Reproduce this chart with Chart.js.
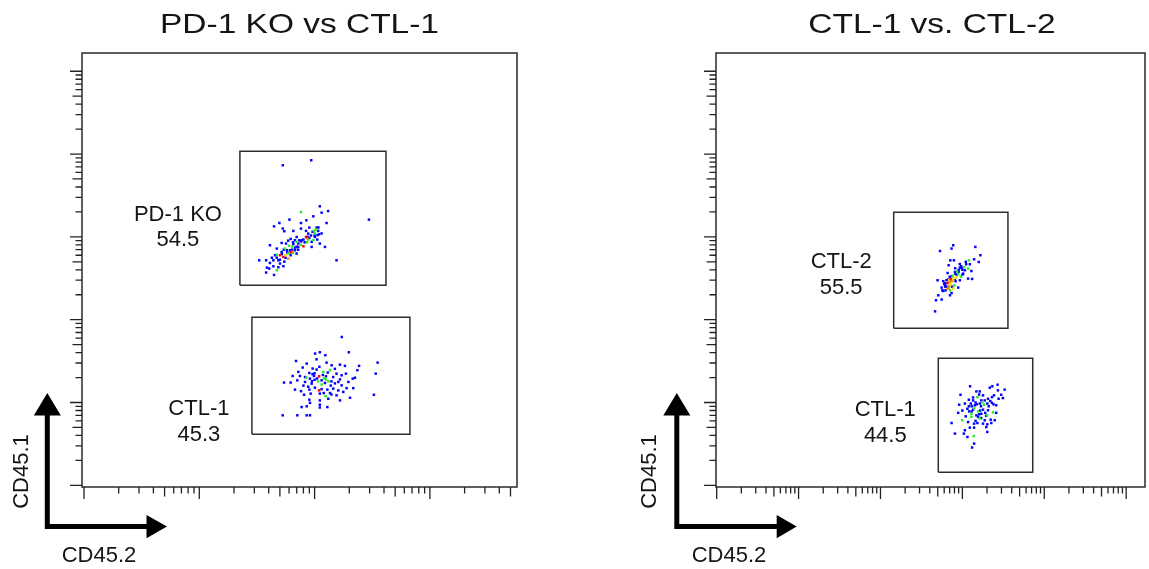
<!DOCTYPE html>
<html><head><meta charset="utf-8">
<script src="https://cdn.jsdelivr.net/npm/chart.js@4.4.1/dist/chart.umd.min.js"></script>
<style>
html,body{margin:0;padding:0;background:#fff;width:1149px;height:569px;overflow:hidden;}
canvas{position:absolute;top:0;}
</style></head><body>
<canvas id="c1" width="600" height="569" style="left:0px"></canvas>
<canvas id="c2" width="549" height="569" style="left:600px"></canvas>
<script>
// ---------- text ----------
const panelTitles = ['PD-1 KO vs CTL-1', 'CTL-1 vs. CTL-2'];
const xAxisLabel = 'CD45.2';
const yAxisLabel = 'CD45.1';

// ---------- axis ranges (fluorescence, log scale) ----------
const xRangeLeft = [9.61, 56940];
const xRangeRight = [0.981, 169800];
const yRange = [0.954, 166000];

// ---------- gates: [xMin, xMax, yMin, yMax] ----------
const gateKO = [225, 4160, 260, 10800];
const gateCTL1a = [286, 6710, 4.13, 107];
const gateCTL2 = [145, 3600, 78.7, 1980];
const gateCTL1b = [508, 7230, 1.44, 34.2];
const gateNamesLeft = ['PD-1 KO', 'CTL-1'];
const gatePctLeft = [54.5, 45.3];
const gateNamesRight = ['CTL-2', 'CTL-1'];
const gatePctRight = [55.5, 44.5];

// ---------- events: [CD45.2, CD45.1, density level 0..4] ----------
const eventsKO = [
[530,7330,0],[935,8410,0],[1110,2340,0],[1150,1960,0],[1310,2050,0],[760,1990,1],[605,1615,0],[495,1470,0],[762,1470,0],[848,1585,0],[975,1770,0],[1270,1470,0],[2960,1615,0],[445,1340,0],[530,1260,0],[546,1170,0],[654,1180,0],[762,1258,0],[843,1180,0],[900,1295,0],[987,1180,1],[1074,1180,0],[1041,1295,0],[620,944,0],[676,910,0],[737,910,0],[800,928,0],[843,997,4],[900,970,0],[975,910,1],[1055,928,0],[1110,830,0],[1230,756,0],[943,756,0],[800,770,4],[722,830,0],[565,830,0],[518,845,0],[410,792,0],[470,722,0],[554,722,1],[612,689,0],[592,629,1],[501,600,4],[699,629,0],[592,546,3],[536,573,4],[485,521,0],[439,521,0],[380,521,0],[331,521,0],[410,484,0],[501,476,0],[536,442,0],[439,442,0],[404,414,0],[380,371,0],[445,347,0],[470,395,1],[1550,521,0],
[699,997,0],[775,910,0],[722,756,0],[1007,997,0],[1095,1075,0],[880,1095,0],[943,870,0],[654,815,0],[575,689,0],[518,657,0],[454,600,0],[676,689,0],[546,502,0],[485,430,0],[386,425,0],[426,560,0],[1007,1100,1],[640,760,1],[470,610,1],[860,860,1],
[590,900,0],[650,860,0],[700,870,1],[760,880,0],[820,860,0],[870,1000,0],[930,1040,0],[1000,1040,0],[1060,1050,0],[1150,1100,0],[700,760,0],[760,800,1],[640,700,0],[580,650,0],[520,620,0],[560,560,0],[620,600,0],[680,740,0],[880,930,1],[960,1150,0],[1030,1230,1],[1080,1300,0],[600,780,1],[540,700,0],[470,560,0],[500,530,0],[650,640,1],[720,700,0],[860,960,3],[620,650,4],[560,600,2],[640,660,3]
];
const eventsCTL1a = [
[1720,61.8,0],[1980,40.4,0],[1110,40.4,0],[1010,39.0,0],[1240,37.2,0],[690,31.7,0],[1040,33.2,0],[1270,30.3,0],[854,29.5,0],[961,25.7,0],[1040,25.0,0],[1406,28.1,0],[1660,28.6,0],[1833,27.7,0],[2430,27.7,0],[2350,24.5,0],[3520,30.3,0],[788,26.4,0],[722,23.4,0],[900,22.7,0],[1190,23.4,1],[1360,24.5,1],[1550,22.3,0],[1716,21.3,0],[1870,22.3,0],[2140,19.4,0],[645,20.9,0],[747,20.9,0],[826,20.3,0],[912,19.4,0],[987,20.9,0],[1095,20.7,4],[1255,20.7,0],[1450,20.3,0],[1660,19.0,0],[1963,17.7,0],[2240,19.9,0],[3390,22.3,0],[543,17.4,0],[620,17.4,0],[708,18.5,0],[826,17.7,0],[943,16.9,0],[1073,18.0,1],[1230,17.2,0],[1315,18.0,1],[1605,17.7,0],[1716,16.1,0],[1895,14.9,0],[2165,14.9,0],[676,14.3,0],[762,13.7,0],[900,14.3,0],[1007,15.1,0],[1095,14.0,4],[1290,14.3,0],[1450,14.7,0],[1605,14.0,0],[1773,13.4,0],[810,12.4,0],[925,12.8,0],[1110,12.8,0],[1247,11.9,1],[1360,13.0,0],[1550,12.2,0],[2030,11.4,0],[3270,12.4,0],[900,10.8,0],[1110,10.6,0],[1315,11.1,0],[1660,10.6,0],[1110,9.4,0],[912,9.9,0],[772,8.8,0],[854,9.0,0],[1110,8.7,0],[1290,8.8,0],[529,7.0,0],[708,7.0,0],[854,7.0,0],[912,7.0,0],
[1150,16.5,1],[1000,18.8,0],[1180,21.5,0],[1380,16.0,0],[960,22.0,0],[1200,19.5,1],
[950,18.0,0],[1050,19.5,0],[1150,18.5,0],[1250,19.0,1],[1400,18.0,0],[1500,17.0,0],[800,16.0,0],[880,15.5,0],[1150,14.5,0],[1200,13.0,0],[1400,12.5,0],[1000,22.5,0],[1300,23.0,0],[1500,25.5,0],[1100,27.0,0],[850,20.0,1]
];
const eventsCTL2 = [
[1440,756,0],[773,792,0],[738,722,0],[533,675,0],[1660,600,0],[1390,536,0],[1586,497,0],[712,521,0],[788,521,0],[1233,467,0],[680,454,0],[932,426,0],[1175,414,1],[1073,395,0],[1289,387,0],[811,377,0],[889,354,1],[1023,360,0],[1175,313,0],[1315,310,0],[738,335,0],[660,366,0],[848,323,2],[773,299,2],[932,299,0],[585,291,0],[660,277,4],[725,267,2],[795,260,1],[889,244,0],[614,260,0],[498,299,0],[558,244,0],[624,226,0],[660,237,3],[706,226,1],[738,210,0],[585,222,0],[508,197,0],[558,175,0],[476,171.5,0],[464,126,0],[706,197,0],[773,237,2],[686,253,3],[818,418,0],[967,442,0],[673,305,0],[618,275,0],[1113,467,0],[825,291,0],[569,226,0],
[900,380,0],[960,330,1],[1000,400,0],[800,300,0],[700,290,0],[850,350,0],[640,250,0],
[700,330,0],[760,340,1],[820,360,0],[900,400,0],[980,420,0],[1050,430,1],[640,300,0],[700,280,2],[740,290,3],[780,320,2],[810,300,0],[860,380,1],[620,250,0],[680,240,1],[600,270,0],[750,250,0],[1100,500,0],[1200,520,1],[930,470,0],[1000,350,0],[720,310,4],[690,300,2]
];
const eventsCTL1b = [
[2690,16.4,0],[3280,14.3,0],[2320,15.7,0],[2160,15.1,0],[1243,15.7,0],[2716,14.0,0],[1482,13.6,0],[1631,13.6,0],[1787,12.2,0],[2432,12.2,0],[2980,12.4,0],[949,12.4,0],[1199,10.8,0],[1352,10.6,0],[1525,11.6,1],[1704,10.6,0],[1874,10.6,0],[2056,11.1,0],[2300,11.6,0],[2770,11.1,0],[3126,11.3,0],[2194,10.4,0],[1073,9.7,0],[914,9.4,0],[1267,9.7,0],[1418,9.25,0],[1631,9.7,0],[1837,9.4,1],[2016,9.7,0],[2300,9.9,0],[2589,9.25,0],[1152,8.4,0],[1352,8.2,0],[1555,7.8,1],[1787,8.2,0],[2056,8.05,0],[2365,7.6,1],[2589,7.5,0],[889,7.5,0],[1289,7.3,1],[1482,7.0,0],[1704,7.3,0],[1289,6.7,1],[1555,6.7,0],[1631,6.4,1],[1874,6.1,0],[2216,6.2,0],[2481,6.1,0],[995,6.1,1],[1175,5.8,0],[1390,5.55,0],[1525,5.65,0],[1787,5.55,0],[2016,5.45,0],[2255,5.65,0],[738,5.65,0],[1073,4.62,0],[1233,4.97,0],[1390,4.97,0],[1960,5.05,0],[1043,4.21,0],[811,4.21,0],[1152,3.83,0],[1379,3.93,1],[2016,4.41,0],[1390,3.19,0],[1315,2.86,0],[1690,9.0,0],[1450,10.0,0],[1950,6.9,0],[1210,7.8,0],[1100,6.8,0],
[1300,9.0,0],[1500,9.5,0],[1750,10.0,1],[2100,9.0,0],[1200,9.0,0],[1400,8.5,1],[1650,8.0,0],[1900,7.5,0],[1300,7.8,0],[1600,7.2,0],[1450,6.0,0],[1700,6.5,0],[2000,7.0,1],[2400,9.5,0],[1000,8.0,0],[1350,11.5,0],[1600,12.5,0]
];

// ---------- styles ----------
const densityColors = ['#0000ff', '#22ee22', '#f0e000', '#ff8800', '#ff0000'];
const FONT = "'Liberation Sans', Arial, Helvetica, sans-serif";
const INK = '#151515';

const panels = [
  { id: 'c1', title: panelTitles[0], xRange: xRangeLeft,
    events: [eventsKO, eventsCTL1a], gates: [gateKO, gateCTL1a],
    names: gateNamesLeft, pcts: gatePctLeft,
    look: { pad: {left: 82, right: 83}, labelOff: [[-62, 63.3], [-53, 92]],
            arrow: {vx: 47.3, hx0: 44.8, hy: 526.6, tipY: 393, baseY: 415.5, tipX: 167, baseX: 146.5},
            yLab: [21.7, 471.5], xLab: [99, 555.5] } },
  { id: 'c2', title: panelTitles[1], xRange: xRangeRight,
    events: [eventsCTL2, eventsCTL1b], gates: [gateCTL2, gateCTL1b],
    names: gateNamesRight, pcts: gatePctRight,
    look: { pad: {left: 116, right: 1}, labelOff: [[-52.5, 49.7], [-53, 51.7]],
            arrow: {vx: 76.8, hx0: 74.3, hy: 526.6, tipY: 393, baseY: 415.5, tipX: 196.7, baseX: 176.7},
            yLab: [50, 471.5], xLab: [129, 555.5] } }
];

function drawLogTicks(ctx, scale, horizontal, area) {
  const lo = Math.log10(scale.min), hi = Math.log10(scale.max);
  ctx.save();
  ctx.strokeStyle = '#222';
  ctx.lineWidth = 1.3;
  ctx.beginPath();
  for (let e = Math.floor(lo); e <= Math.ceil(hi); e++) {
    for (let m = 1; m <= 9; m++) {
      const v = m * Math.pow(10, e);
      if (v < scale.min * 0.9999 || v > scale.max * 1.0001) continue;
      const p = scale.getPixelForValue(v);
      const len = m === 1 ? 12 : (m === 5 ? 9.5 : 6.5);
      if (horizontal) { ctx.moveTo(p, area.bottom); ctx.lineTo(p, area.bottom + len); }
      else { ctx.moveTo(area.left, p); ctx.lineTo(area.left - len, p); }
    }
  }
  ctx.stroke();
  ctx.restore();
}

function makePlugin(panel) {
  return {
    id: 'flowDecor',
    beforeDraw(chart) {
      const tb = chart.titleBlock;
      if (tb && !tb._stretched) {
        const orig = tb.draw.bind(tb);
        tb.draw = function(area) {
          const c = this.ctx, cx = (this.left + this.right) / 2;
          c.save(); c.translate(cx, 0); c.scale(1.195, 1); c.translate(-cx, 0);
          orig(area);
          c.restore();
        };
        tb._stretched = true;
      }
    },
    afterDraw(chart) {
      const ctx = chart.ctx, a = chart.chartArea;
      const xs = chart.scales.x, ys = chart.scales.y;
      const L = panel.look;
      // frame
      ctx.save();
      ctx.strokeStyle = '#2a2a2a';
      ctx.lineWidth = 1.5;
      ctx.strokeRect(a.left, a.top, a.right - a.left, a.bottom - a.top);
      ctx.restore();
      drawLogTicks(ctx, xs, true, a);
      drawLogTicks(ctx, ys, false, a);
      // gate labels
      ctx.save();
      ctx.fillStyle = INK;
      ctx.font = '22px ' + FONT;
      ctx.textAlign = 'center';
      ctx.textBaseline = 'middle';
      panel.gates.forEach((g, i) => {
        const gx = xs.getPixelForValue(g[0]) + L.labelOff[i][0];
        const gy = ys.getPixelForValue(g[3]) + L.labelOff[i][1];
        ctx.fillText(panel.names[i], gx, gy);
        ctx.fillText(panel.pcts[i].toFixed(1), gx, gy + 25.5);
      });
      ctx.restore();
      // axis arrows
      const A = L.arrow;
      ctx.save();
      ctx.strokeStyle = '#000'; ctx.fillStyle = '#000';
      ctx.lineWidth = 5; ctx.lineCap = 'butt';
      ctx.beginPath();
      ctx.moveTo(A.vx, A.hy + 2.5); ctx.lineTo(A.vx, A.baseY - 1);
      ctx.moveTo(A.hx0, A.hy); ctx.lineTo(A.baseX + 1, A.hy);
      ctx.stroke();
      ctx.beginPath();
      ctx.moveTo(A.vx, A.tipY); ctx.lineTo(A.vx - 13.5, A.baseY); ctx.lineTo(A.vx + 13.5, A.baseY); ctx.closePath();
      ctx.fill();
      ctx.beginPath();
      ctx.moveTo(A.tipX, A.hy); ctx.lineTo(A.baseX, A.hy - 11.7); ctx.lineTo(A.baseX, A.hy + 11.7); ctx.closePath();
      ctx.fill();
      ctx.restore();
      // axis labels
      ctx.save();
      ctx.fillStyle = INK;
      ctx.font = '22px ' + FONT;
      ctx.textAlign = 'center';
      ctx.textBaseline = 'middle';
      ctx.fillText(xAxisLabel, L.xLab[0], L.xLab[1]);
      ctx.translate(L.yLab[0], L.yLab[1]);
      ctx.rotate(-Math.PI / 2);
      ctx.fillText(yAxisLabel, 0, 0);
      ctx.restore();
    }
  };
}

panels.forEach(panel => {
  const datasets = [];
  panel.gates.forEach(g => {
    datasets.push({
      type: 'scatter',
      data: [{x: g[0], y: g[2]}, {x: g[1], y: g[2]}, {x: g[1], y: g[3]}, {x: g[0], y: g[3]}, {x: g[0], y: g[2]}],
      showLine: true, borderColor: '#2e2e2e', borderWidth: 1.5, pointRadius: 0, fill: false, tension: 0
    });
  });
  panel.events.forEach(ev => {
    const pts = ev.map(p => ({x: p[0], y: p[1], d: p[2]})).sort((a, b) => a.d - b.d);
    datasets.push({
      type: 'scatter',
      data: pts,
      pointStyle: 'rect',
      pointRadius: 1.75,
      pointBorderWidth: 0,
      borderWidth: 0,
      pointBackgroundColor: c => densityColors[(c.raw && c.raw.d) || 0],
      backgroundColor: c => densityColors[(c.raw && c.raw.d) || 0]
    });
  });
  new Chart(document.getElementById(panel.id), {
    type: 'scatter',
    data: { datasets },
    options: {
      responsive: false,
      animation: false,
      devicePixelRatio: 1,
      events: [],
      layout: { padding: { left: panel.look.pad.left, right: panel.look.pad.right, top: 0, bottom: 82 } },
      plugins: {
        legend: { display: false },
        tooltip: { enabled: false },
        title: { display: true, text: panel.title, color: INK,
                 font: { family: FONT, size: 28, weight: 'normal', lineHeight: 1.2 },
                 padding: { top: 8, bottom: 11.4 } }
      },
      scales: {
        x: { type: 'logarithmic', position: 'bottom', min: panel.xRange[0], max: panel.xRange[1], display: false },
        y: { type: 'logarithmic', position: 'left', min: yRange[0], max: yRange[1], display: false }
      }
    },
    plugins: [makePlugin(panel)]
  });
});
</script>
</body></html>
